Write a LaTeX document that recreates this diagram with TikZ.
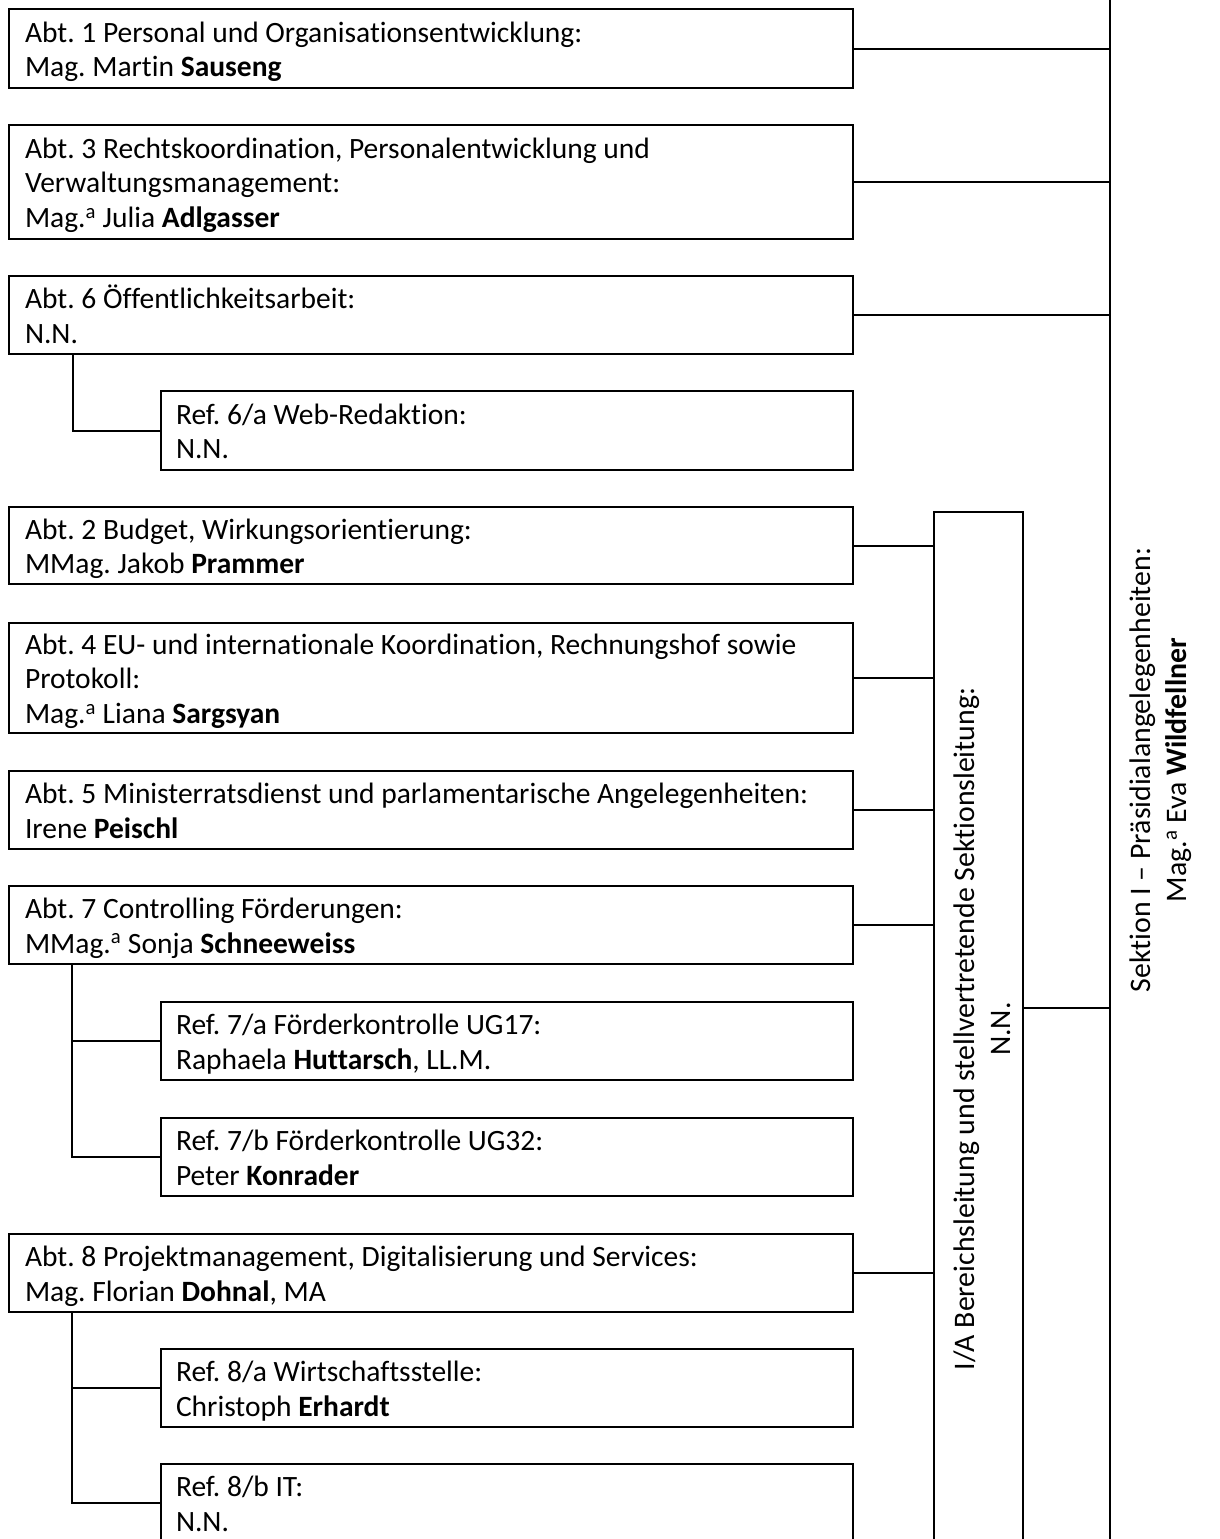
\documentclass[tikz,border=0pt]{standalone}
\usepackage{fontspec}
\setmainfont{Carlito}[Ligatures=NoCommon]
\frenchspacing
\newcommand\hstrut{\rule[-6.5pt]{0pt}{34.5pt}}
\newcommand\vstrut{\rule[-7pt]{0pt}{36pt}}
\begin{document}
\begin{tikzpicture}[x=1pt,y=-1pt,
  every node/.style={outer sep=0pt},
  abtbox/.style={draw, line width=2.2pt, rectangle, anchor=north west, inner xsep=16pt, inner ysep=0pt, text width=812pt, minimum width=844pt, align=flush left, font=\fontsize{29.5}{34.5}\selectfont\frenchspacing},
  refbox/.style={abtbox, inner xsep=15pt, text width=662pt, minimum width=692pt},
  frame/.style={draw, line width=2.2pt, rectangle, anchor=north west, inner sep=0pt},
  conn/.style={line width=2pt},
  vtext/.style={rotate=90, align=center, inner sep=0pt, font=\fontsize{29.8}{36}\selectfont\frenchspacing},
]
\useasboundingbox[fill=white] (0,0) rectangle (1220,1539);

\node[abtbox, minimum height=79pt] (abt1) at (9,9) {\hstrut Abt. 1 Personal und Organisationsentwicklung:\\\hstrut Mag. Martin \textbf{Sauseng}};
\node[abtbox, minimum height=114pt] (abt3) at (9,125) {\hstrut Abt. 3 Rechtskoordination, Personalentwicklung und\\\hstrut Verwaltungsmanagement:\\\hstrut Mag.\textsuperscript{a} Julia \textbf{Adlgasser}};
\node[abtbox, minimum height=78pt] (abt6) at (9,276) {\hstrut Abt. 6 Öffentlichkeitsarbeit:\\\hstrut N.N.};
\node[refbox, minimum height=79pt] (ref6a) at (161,391) {\hstrut Ref. 6/a Web-Redaktion:\\\hstrut N.N.};
\node[abtbox, minimum height=77pt] (abt2) at (9,507) {\hstrut Abt. 2 Budget, Wirkungsorientierung:\\\hstrut MMag. Jakob \textbf{Prammer}};
\node[abtbox, minimum height=110pt] (abt4) at (9,623) {\hstrut Abt. 4 EU- und internationale Koordination, Rechnungshof sowie\\\hstrut Protokoll:\\\hstrut Mag.\textsuperscript{a} Liana \textbf{Sargsyan}};
\node[abtbox, minimum height=78pt] (abt5) at (9,771) {\hstrut Abt. 5 Ministerratsdienst und parlamentarische Angelegenheiten:\\\hstrut Irene \textbf{Peischl}};
\node[abtbox, minimum height=78pt] (abt7) at (9,886) {\hstrut Abt. 7 Controlling Förderungen:\\\hstrut MMag.\textsuperscript{a} Sonja \textbf{Schneeweiss}};
\node[refbox, minimum height=78pt] (ref7a) at (161,1002) {\hstrut Ref. 7/a Förderkontrolle UG17:\\\hstrut Raphaela \textbf{Huttarsch}, LL.M.};
\node[refbox, minimum height=78pt] (ref7b) at (161,1118) {\hstrut Ref. 7/b Förderkontrolle UG32:\\\hstrut Peter \textbf{Konrader}};
\node[abtbox, minimum height=78pt] (abt8) at (9,1234) {\hstrut Abt. 8 Projektmanagement, Digitalisierung und Services:\\\hstrut Mag. Florian \textbf{Dohnal}, MA};
\node[refbox, minimum height=78pt] (ref8a) at (161,1349) {\hstrut Ref. 8/a Wirtschaftsstelle:\\\hstrut Christoph \textbf{Erhardt}};
\node[refbox, minimum height=78pt] (ref8b) at (161,1464) {\hstrut Ref. 8/b IT:\\\hstrut N.N.};

\node[frame, minimum width=89pt, minimum height=1040pt] (ia) at (934,512) {};
\node[vtext] (iatxt) at (981,1029) {\vstrut I/A Bereichsleitung und stellvertretende Sektionsleitung:\\\vstrut N.N.};

\node[frame, minimum width=200pt, minimum height=1600pt] (sek) at (1110,-30) {};
\node[vtext] (sektxt) at (1157,770) {\vstrut Sektion I – Präsidialangelegenheiten:\\\vstrut Mag.\textsuperscript{a} Eva \textbf{Wildfellner}};

\foreach \n in {abt1,abt3,abt6} \draw[conn] (\n.east) -- (\n.east -| sek.west);
\foreach \n in {abt2,abt4,abt5,abt7,abt8} \draw[conn] (\n.east) -- (\n.east -| ia.west);
\coordinate (nnL) at ([yshift=24pt]ia.east);
\draw[conn] (nnL) -- (nnL -| sek.west);

\coordinate (s6) at ([xshift=64pt]abt6.south west);
\draw[conn] (s6) |- (ref6a.west);
\coordinate (s7) at ([xshift=63pt]abt7.south west);
\draw[conn] (s7) |- (ref7b.west);
\draw[conn] (s7 |- ref7a.west) -- (ref7a.west);
\coordinate (s8) at ([xshift=63pt]abt8.south west);
\draw[conn] (s8) |- (ref8b.west);
\draw[conn] (s8 |- ref8a.west) -- (ref8a.west);
\end{tikzpicture}
\end{document}
